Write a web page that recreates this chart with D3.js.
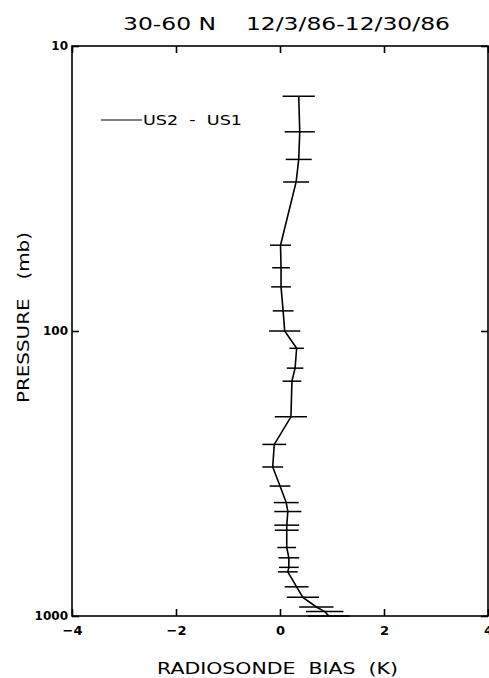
<!DOCTYPE html>
<html lang="en">
<head>
  <meta charset="UTF-8">
  <title>Radiosonde bias 30-60 N</title>
  <script src="https://d3js.org/d3.v7.min.js"></script>
  <style>
    body { margin: 0; background: #fff; }
    text { font-family: "DejaVu Sans", sans-serif; fill: #000; }
  </style>
</head>
<body>
<div id="chart"></div>
<script>
// pressure levels (mb), mean bias US2 - US1 (K), half width of error bar (K)
const pressure = [15, 20, 25, 30, 50, 60, 70, 85, 100, 115, 135, 150, 200, 250, 300, 350,
                  400, 430, 480, 500, 575, 625, 675, 700, 790, 860, 930, 965, 1000];
const bias = [0.36, 0.38, 0.36, 0.31, 0.01, 0.02, 0.02, 0.06, 0.09, 0.32, 0.29, 0.23,
              0.21, -0.11, -0.14, 0.0, 0.12, 0.15, 0.13, 0.13, 0.13, 0.17, 0.17, 0.15,
              0.32, 0.44, 0.70, 0.86, 0.94];
const spread = [0.31, 0.29, 0.25, 0.25, 0.2, 0.17, 0.19, 0.2, 0.3, 0.14, 0.16, 0.18,
                0.31, 0.23, 0.2, 0.2, 0.24, 0.26, 0.24, 0.23, 0.18, 0.2, 0.19, 0.19,
                0.23, 0.31, 0.33, 0.36, 0.4];
const xTicks = [-4, -2, 0, 2, 4];
const yTicks = [10, 100, 1000];

const data = pressure.map((p, i) => ({ p: p, b: bias[i], e: spread[i] }));

const width = 489, height = 678;
const svg = d3.select("#chart").append("svg")
  .attr("width", width)
  .attr("height", height);

const x = d3.scaleLinear().domain([-4, 4]).range([72, 488]);
const y = d3.scaleLog().domain([10, 1000]).range([46, 616]);

// frame
svg.append("rect")
  .attr("x", x(-4)).attr("y", y(10))
  .attr("width", x(4) - x(-4)).attr("height", y(1000) - y(10))
  .attr("fill", "none").attr("stroke", "#000").attr("stroke-width", 1.6);

// inward ticks
const tickLen = 7;
svg.append("g")
  .attr("transform", `translate(0,${y(1000)})`)
  .call(d3.axisBottom(x).tickValues(xTicks).tickSize(-tickLen).tickPadding(10)
    .tickFormat(d => d < 0 ? "\u2212" + Math.abs(d) : d))
  .call(g => g.select(".domain").remove())
  .call(g => g.selectAll("line").attr("stroke-width", 1.6))
  .call(g => g.selectAll("text").attr("font-size", 13).attr("font-weight", "bold")
    .attr("font-family", "DejaVu Sans, sans-serif"));

svg.append("g")
  .attr("transform", `translate(0,${y(10)})`)
  .call(d3.axisTop(x).tickValues(xTicks).tickSize(-tickLen).tickFormat(""))
  .call(g => g.select(".domain").remove())
  .call(g => g.selectAll("line").attr("stroke-width", 1.6));

svg.append("g")
  .attr("transform", `translate(${x(-4)},0)`)
  .call(d3.axisLeft(y).tickValues(yTicks).tickSize(-tickLen).tickPadding(4)
    .tickFormat(d3.format("d")))
  .call(g => g.select(".domain").remove())
  .call(g => g.selectAll("line").attr("stroke-width", 1.6))
  .call(g => g.selectAll("text").attr("font-size", 12).attr("font-weight", "bold")
    .attr("font-family", "DejaVu Sans, sans-serif"));

svg.append("g")
  .attr("transform", `translate(${x(4)},0)`)
  .call(d3.axisRight(y).tickValues(yTicks).tickSize(-tickLen).tickFormat(""))
  .call(g => g.select(".domain").remove())
  .call(g => g.selectAll("line").attr("stroke-width", 1.6));

// error bars
svg.append("g")
  .selectAll("line")
  .data(data)
  .join("line")
  .attr("x1", d => x(d.b - d.e))
  .attr("x2", d => x(d.b + d.e))
  .attr("y1", d => y(d.p))
  .attr("y2", d => y(d.p))
  .attr("stroke", "#000")
  .attr("stroke-width", 1.5);

// profile
svg.append("path")
  .datum(data)
  .attr("fill", "none")
  .attr("stroke", "#000")
  .attr("stroke-width", 1.6)
  .attr("d", d3.line().x(d => x(d.b)).y(d => y(d.p)));

// legend
svg.append("line")
  .attr("x1", 101).attr("x2", 142).attr("y1", 120).attr("y2", 120)
  .attr("stroke", "#000").attr("stroke-width", 1.2);
svg.append("text")
  .attr("x", 143).attr("y", 125)
  .attr("font-size", 14)
  .attr("textLength", 99).attr("lengthAdjust", "spacingAndGlyphs")
  .style("white-space", "pre")
  .text("US2  -  US1");

// title
svg.append("text")
  .attr("x", 123).attr("y", 30)
  .attr("font-size", 18).attr("font-weight", 500)
  .attr("textLength", 327).attr("lengthAdjust", "spacingAndGlyphs")
  .style("white-space", "pre")
  .text("30-60 N    12/3/86-12/30/86");

// axis titles
svg.append("text")
  .attr("x", 157).attr("y", 674)
  .attr("font-size", 15).attr("font-weight", 500)
  .attr("textLength", 241).attr("lengthAdjust", "spacingAndGlyphs")
  .style("white-space", "pre")
  .text("RADIOSONDE  BIAS  (K)");

svg.append("text")
  .attr("transform", "translate(29,403) rotate(-90)")
  .attr("font-size", 15).attr("font-weight", 500)
  .attr("textLength", 171).attr("lengthAdjust", "spacingAndGlyphs")
  .style("white-space", "pre")
  .text("PRESSURE   (mb)");
</script>
</body>
</html>
